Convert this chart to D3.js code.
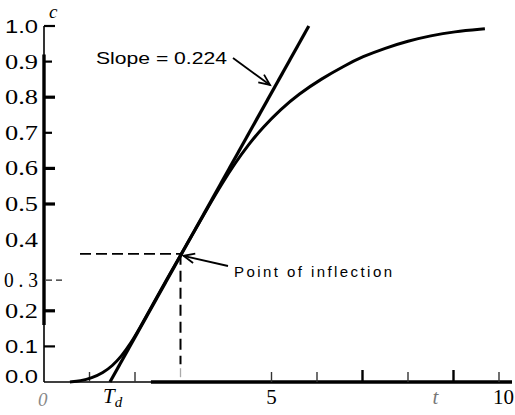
<!DOCTYPE html>
<html><head><meta charset="utf-8">
<script src="https://cdn.jsdelivr.net/npm/d3@7"></script>
<style>html,body{margin:0;padding:0;background:#fff;}svg{display:block;}</style>
</head><body>
<svg id="chart" width="515" height="415"></svg>
<script>
// ---- data ----
const curveT = [0.57,0.8,1.05,1.3,1.5,1.7,1.9,2.1,2.4,2.7,3.0,3.3,3.6,3.9,4.2,4.5,4.8,5.2,5.6,6.1,6.6,7.0,7.5,8.0,8.5,9.0,9.69];
const curveC = [0,0.003,0.011,0.026,0.045,0.072,0.107,0.150,0.220,0.289,0.356,0.423,0.490,0.555,0.615,0.668,0.714,0.766,0.809,0.852,0.888,0.914,0.938,0.958,0.973,0.984,0.992];
const tangentT = [1.45, 5.82];
const tangentC = [0, 1.0];
const inflection = {t: 3.0, c: 0.36};
const yTickValues = [1.0,0.9,0.8,0.7,0.6,0.5,0.4,0.3,0.2,0.1,0.0];
const yTickLabels = ["1.0","0.9","0.8","0.7","0.6","0.5","0.4","0 . 3","0.2","0.1","0.0"];
const yTickMarks = [1.0,0.9,0.8,0.7,0.6,0.5,0.2,0.1];
const xTickMarks = [1,2,5,6,7,8,9,10];
const slopeLabel = "Slope = 0.224";
const inflLabel = "Point of inflection";

// ---- scales ----
const svg = d3.select("#chart");
const x = d3.scaleLinear().domain([0,10]).range([44,499]);
const y = d3.scaleLinear().domain([0,1]).range([382,26]);

// axes
const ax = svg.append("g");
ax.append("line").attr("x1",44).attr("x2",44).attr("y1",y(1)).attr("y2",y(0)).attr("stroke","#000").attr("stroke-width",1.6);
ax.append("line").attr("x1",44).attr("x2",44).attr("y1",y(0.92)).attr("y2",y(0.16)).attr("stroke","#000").attr("stroke-width",3.4);
ax.append("line").attr("x1",44).attr("x2",512).attr("y1",y(0)).attr("y2",y(0)).attr("stroke","#000").attr("stroke-width",1.6);
ax.append("line").attr("x1",x(2.35)).attr("x2",512).attr("y1",y(0)).attr("y2",y(0)).attr("stroke","#000").attr("stroke-width",3.4);

// y tick marks
ax.selectAll(".yt").data(yTickMarks).join("line")
  .attr("x1",44).attr("x2",d=> (d===0.9||d===0.7)?52:55)
  .attr("y1",d=>y(d)).attr("y2",d=>y(d))
  .attr("stroke","#000").attr("stroke-width",d=>(d===0.8||d===0.6||d===0.5||d===0.2)?3.2:2.2);

// x tick marks
ax.selectAll(".xt").data(xTickMarks).join("line")
  .attr("x1",d=>x(d)).attr("x2",d=>x(d))
  .attr("y1",y(0)).attr("y2",d=>y(0)-(d===7||d===9?12:10))
  .attr("stroke",d=>(d===7||d===9)?"#000":"#333").attr("stroke-width",d=>(d===7||d===9)?2.4:1.4);

// y labels
const sansSet = new Set(["1.0","0.1","0.0"]);
svg.selectAll(".yl").data(yTickValues).join("text")
  .attr("x",38).attr("y",d=> y(d) + (d===0?1:(d===0.3?12:7)))
  .attr("text-anchor","end")
  .style("font-family",(d,i)=> sansSet.has(yTickLabels[i]) ? "'Liberation Sans', Arial, sans-serif" : "'Liberation Serif', 'Times New Roman', serif")
  .attr("font-size",(d,i)=> sansSet.has(yTickLabels[i]) ? 19 : 21)
  .attr("textLength",(d,i)=> yTickLabels[i]==="0 . 3" ? 34 : 33)
  .attr("lengthAdjust","spacingAndGlyphs")
  .attr("fill","#000")
  .text((d,i)=>yTickLabels[i]);

// axis names
svg.append("text").attr("x",49).attr("y",18).style("font-family","'Liberation Serif', serif").attr("font-style","italic").attr("font-size",19).text("c");
svg.append("text").attr("x",x(0)-6).attr("y",406).style("font-family","'Liberation Serif', serif").attr("font-style","italic").attr("font-size",19).attr("fill","#888").text("0");
const td = svg.append("text").attr("x",x(1.45)-7).attr("y",403).style("font-family","'Liberation Serif', serif").attr("font-style","italic").attr("font-size",21);
td.append("tspan").text("T");
td.append("tspan").attr("dy",4).attr("font-size",15).text("d");
svg.append("text").attr("x",x(5)).attr("y",404).attr("text-anchor","middle").style("font-family","'Liberation Serif', serif").attr("font-size",21).text("5");
svg.append("text").attr("x",x(8.6)).attr("y",404).attr("text-anchor","middle").style("font-family","'Liberation Serif', serif").attr("font-style","italic").attr("font-size",21).attr("fill","#777").text("t");
svg.append("text").attr("x",x(10.1)).attr("y",404).attr("text-anchor","middle").style("font-family","'Liberation Serif', serif").attr("font-size",21).text("10");

// dashed guides
svg.append("line").attr("x1",80).attr("x2",x(inflection.t)).attr("y1",y(inflection.c)).attr("y2",y(inflection.c))
  .attr("stroke","#000").attr("stroke-width",1.6).attr("stroke-dasharray","11,5");
svg.append("line").attr("x1",x(inflection.t)).attr("x2",x(inflection.t)).attr("y1",y(inflection.c)).attr("y2",y(0.05))
  .attr("stroke","#000").attr("stroke-width",2).attr("stroke-dasharray","11,6");
svg.append("line").attr("x1",x(inflection.t)).attr("x2",x(inflection.t)).attr("y1",y(0.05)+4).attr("y2",y(0.05)+13)
  .attr("stroke","#aaa").attr("stroke-width",1.3);
svg.append("line").attr("x1",46).attr("x2",66).attr("y1",y(0.3)+5).attr("y2",y(0.3)+5)
  .attr("stroke","#222").attr("stroke-width",1.2).attr("stroke-dasharray","6,4");

// curve
const pts = curveT.map((t,i)=>[t,curveC[i]]);
const line = d3.line().x(d=>x(d[0])).y(d=>y(d[1])).curve(d3.curveBasis);
svg.append("path").attr("d",line(pts)).attr("fill","none").attr("stroke","#000").attr("stroke-width",3);

// tangent
const tpts = tangentT.map((t,i)=>[t,tangentC[i]]);
svg.append("path").attr("d",d3.line().x(d=>x(d[0])).y(d=>y(d[1]))(tpts)).attr("fill","none").attr("stroke","#000").attr("stroke-width",3.2);

// annotations
function arrow(x1,y1,x2,y2){
  svg.append("line").attr("x1",x1).attr("y1",y1).attr("x2",x2).attr("y2",y2).attr("stroke","#000").attr("stroke-width",1.8);
  const a = Math.atan2(y2-y1,x2-x1), L=12, w=0.42;
  const p = [[x2-L*Math.cos(a-w),y2-L*Math.sin(a-w)],[x2,y2],[x2-L*Math.cos(a+w),y2-L*Math.sin(a+w)]];
  svg.append("path").attr("d",d3.line()(p)).attr("fill","none").attr("stroke","#000").attr("stroke-width",1.8);
}
svg.append("text").attr("x",96).attr("y",64).style("font-family","'Liberation Sans', Arial, sans-serif").attr("font-size",17)
  .attr("textLength",131).attr("lengthAdjust","spacingAndGlyphs").text(slopeLabel);
arrow(233,58,270,85);
svg.append("text").attr("x",234).attr("y",277).style("font-family","'Liberation Sans', Arial, sans-serif").attr("font-size",15)
  .attr("textLength",158).attr("lengthAdjust","spacing").text(inflLabel);
arrow(228,266,x(inflection.t)+3,y(inflection.c)+2);
</script>
</body></html>
